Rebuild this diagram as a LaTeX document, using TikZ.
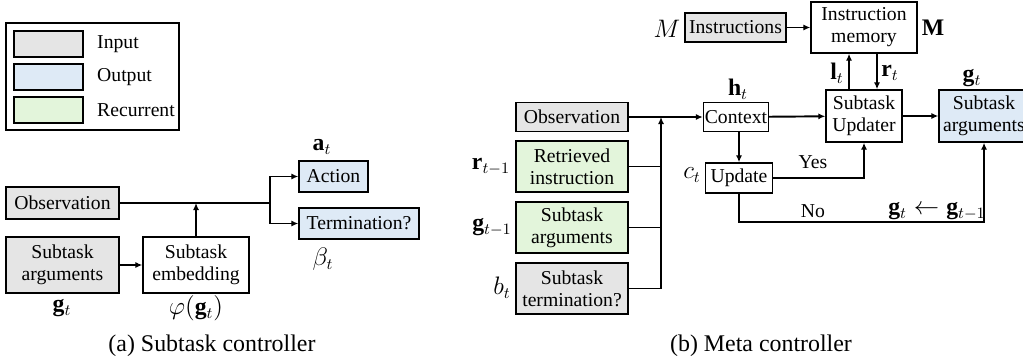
\documentclass[tikz,border=0pt]{standalone}
\usepackage{amsmath}
\usepackage{amssymb}
\usepackage{fontspec}
\setmainfont{Liberation Serif}
\usepackage{tikz}
\usetikzlibrary{arrows.meta,calc}
\definecolor{ingray}{RGB}{229,229,229}
\definecolor{outblue}{RGB}{222,234,246}
\definecolor{recgreen}{RGB}{227,245,219}

\begin{document}
\begin{tikzpicture}[x=0.02cm,y=-0.02cm,
  every node/.style={font=\fontsize{11.2}{12.6}\selectfont},
  box/.style={draw,line width=0.8pt,inner sep=0pt,align=center},
  inbox/.style={box,fill=ingray},
  outbox/.style={box,fill=outblue},
  recbox/.style={box,fill=recgreen},
  mlabel/.style={font=\fontsize{13.5}{15}\selectfont},
  caption/.style={font=\fontsize{13.6}{15}\selectfont},
  line/.style={line width=1.1pt},
  arr/.style={line,-{Latex[length=4pt,width=3.5pt]}}]
\useasboundingbox (0,0) rectangle (1023,358);
% legend
\node[draw,line width=0.8pt,minimum width=3.46cm,minimum height=2.14cm] (legend) at (92.5,76.5) {};
\node[inbox,minimum width=1.38cm,minimum height=0.52cm] (keyin) at (48.5,44) {};
\node[outbox,minimum width=1.38cm,minimum height=0.52cm] (keyout) at (48.5,77) {};
\node[recbox,minimum width=1.38cm,minimum height=0.52cm] (keyrec) at (48.5,110) {};
\node[anchor=west] (keyinl) at (91,44) {Input};
\node[anchor=west] (keyoutl) at (91,77) {Output};
\node[anchor=west] (keyrecl) at (91,110) {Recurrent};
% (a) subtask controller
\node[inbox,minimum width=2.26cm,minimum height=0.64cm] (obsA) at (62.5,203) {Observation};
\node[inbox,minimum width=2.26cm,minimum height=1.12cm] (argsA) at (62.5,265) {Subtask\\arguments};
\node[box,minimum width=2.12cm,minimum height=1.12cm] (embA) at (196,265) {Subtask\\embedding};
\node[outbox,minimum width=1.38cm,minimum height=0.62cm] (actA) at (333.5,176.5) {Action};
\node[outbox,minimum width=2.4cm,minimum height=0.62cm] (termA) at (359,223.5) {Termination?};
\coordinate (jA) at (270,203);
\draw[line] (obsA.east) -- (jA);
\draw[arr] (jA) |- (actA.west);
\draw[arr] (jA) |- (termA.west);
\draw[arr] (argsA) -- (embA);
\draw[arr] (embA.north) -- (embA.north |- obsA.east);
\node[mlabel] (aT) at (322,147) {$\mathbf{a}_t$};
\node[mlabel] (betaT) at (323,259) {$\beta_t$};
\node[mlabel] (gA) at (62,308) {$\mathbf{g}_t$};
\node[mlabel] (phiA) at (196,308) {$\varphi(\mathbf{g}_t)$};
\node[caption] (capA) at (212,346) {(a) Subtask controller};
% (b) meta controller
\node[inbox,minimum width=2.24cm,minimum height=0.58cm] (obsB) at (572,117) {Observation};
\node[recbox,minimum width=2.24cm,minimum height=1.02cm] (retB) at (572,166.5) {Retrieved\\instruction};
\node[recbox,minimum width=2.24cm,minimum height=1.02cm] (argsB) at (572,227.5) {Subtask\\arguments};
\node[inbox,minimum width=2.24cm,minimum height=1.02cm] (termB) at (572,288.5) {Subtask\\termination?};
\coordinate (jB) at (661,117);
\draw[line] (retB.east) -- (retB.east -| jB);
\draw[line] (argsB.east) -- (argsB.east -| jB);
\draw[arr] (termB.east) -| (jB);
\node[box,minimum width=1.3cm,minimum height=0.58cm] (ctx) at (736,117) {Context};
\node[box,minimum width=1.34cm,minimum height=0.60cm] (updc) at (739,178) {Update};
\node[box,minimum width=1.52cm,minimum height=1.04cm] (upd) at (864,116) {Subtask\\Updater};
\node[box,minimum width=2.12cm,minimum height=1.02cm] (mem) at (864,27.5) {Instruction\\memory};
\node[inbox,minimum width=2.02cm,minimum height=0.58cm] (instr) at (735.5,27.5) {Instructions};
\node[outbox,minimum width=1.8cm,minimum height=1.04cm] (argsOut) at (984,116) {Subtask\\arguments};
\coordinate (noC) at (984,222);
\draw[arr] (obsB) -- (ctx);
\draw[arr] (ctx) -- (upd);
\draw[arr] (upd) -- (argsOut);
\draw[arr] (instr) -- (mem);
\draw[arr] (updc.north |- ctx.south) -- (updc.north);
\draw[arr] ([xshift=-0.3cm]upd.north) -- ([xshift=-0.3cm]mem.south);
\draw[arr] ([xshift=0.26cm]mem.south) -- ([xshift=0.26cm]upd.north);
\draw[arr] (updc.east) -| (upd.south);
\draw[arr] (updc.south) |- (noC) -- (argsOut.south);
\node[mlabel] (Mi) at (667,29) {$M$};
\node[mlabel] (Mb) at (933,28) {$\mathbf{M}$};
\node[mlabel] (lT) at (837,73) {$\mathbf{l}_t$};
\node[mlabel] (rT) at (890,73) {$\mathbf{r}_t$};
\node[mlabel] (hT) at (738,89) {$\mathbf{h}_t$};
\node[mlabel] (gT) at (972,78) {$\mathbf{g}_t$};
\node[mlabel] (rprev) at (491,167) {$\mathbf{r}_{t-1}$};
\node[mlabel] (gprev) at (492,227) {$\mathbf{g}_{t-1}$};
\node[mlabel] (bT) at (502,288) {$b_t$};
\node[mlabel] (cT) at (692,175) {$c_t$};
\node (yes) at (813,162) {Yes};
\node (no) at (813,211) {No};
\node[mlabel] (keep) at (937,211) {$\mathbf{g}_t \leftarrow \mathbf{g}_{t-1}$};
\node[caption] (capB) at (761,346) {(b) Meta controller};
\end{tikzpicture}
\end{document}
